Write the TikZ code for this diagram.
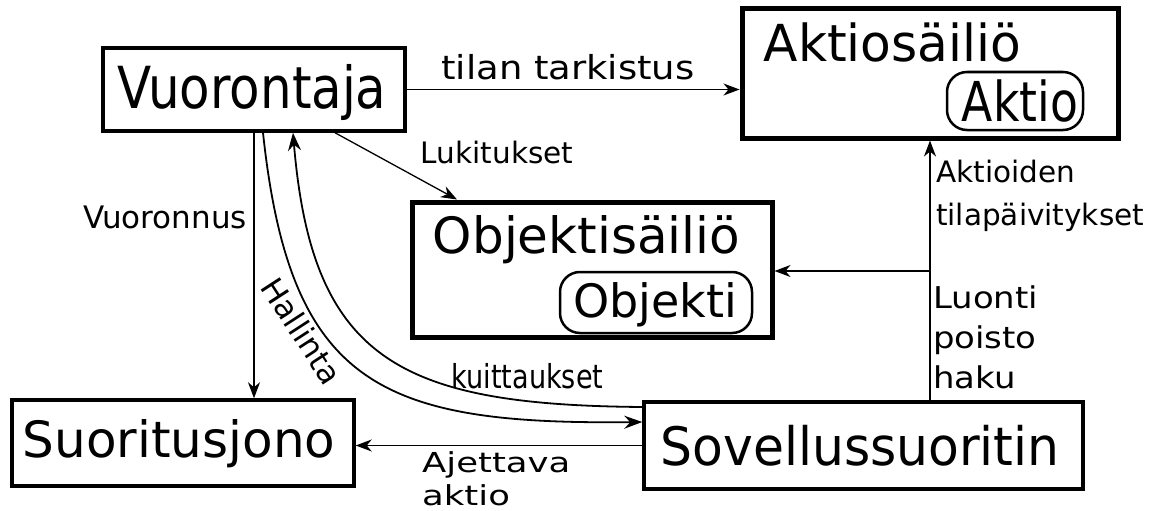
\documentclass[tikz,border=0pt]{standalone}
\usepackage{fontspec}
\setmainfont{DejaVu Sans}
\usepackage{graphicx}
\usetikzlibrary{arrows.meta}
\newcommand\lbl[3]{\fontsize{#1}{#1}\selectfont\scalebox{#2}[1]{#3}}
\begin{document}
\begin{tikzpicture}[x=1pt,y=-1pt,
  box/.style={draw, line width=3.5pt, inner sep=0pt},
  bigbox/.style={draw, line width=5pt, inner sep=0pt},
  inbox/.style={draw, line width=2.5pt, rounded corners=20pt, inner sep=0pt},
  txt/.style={inner sep=0pt, anchor=base},
  ltxt/.style={inner sep=0pt, anchor=base west},
  arr/.style={line width=1.3pt, -{Stealth[length=16pt,width=12pt,inset=5pt]}},
  carr/.style={line width=1.8pt, -{Stealth[length=18pt,width=13pt,inset=6pt]}}
]
\useasboundingbox (0,0) rectangle (1156,511);
% boxes
\node[box, minimum width=302pt, minimum height=83pt] (V) at (254,89.5) {};
\node[bigbox, minimum width=376pt, minimum height=129pt] (A) at (930,73.5) {};
\node[bigbox, minimum width=360pt, minimum height=135pt] (O) at (592,269.5) {};
\node[box, minimum width=342pt, minimum height=86pt] (Q) at (183,443) {};
\node[box, minimum width=439pt, minimum height=87pt] (S) at (863.5,445.5) {};
\node[inbox, minimum width=136pt, minimum height=58pt] (AI) at (1015,101) {};
\node[inbox, minimum width=192pt, minimum height=61pt] (OI) at (656,302.5) {};
% box texts
\node[txt] (Vt) at (252,108) {\lbl{58}{0.86}{Vuorontaja}};
\node[txt] (At) at (892.5,62) {\lbl{51}{0.985}{Aktiosäiliö}};
\node[txt] (Ot) at (586.5,253) {\lbl{50}{1}{Objektisäiliö}};
\node[txt] (Qt) at (179,457) {\lbl{50}{1}{Suoritusjono}};
\node[txt] (St) at (860,465) {\lbl{53}{0.95}{Sovellussuoritin}};
\node[txt] (AIt) at (1020,121.5) {\lbl{55}{0.83}{Aktio}};
\node[txt] (OIt) at (655,317) {\lbl{46}{1}{Objekti}};
% labels
\node[txt] (l1) at (568,80) {\lbl{33}{1.12}{tilan tarkistus}};
\node[txt] (l2) at (497,163) {\lbl{29.5}{1}{Lukitukset}};
\node[txt] (l3) at (165,228) {\lbl{31}{1}{Vuoronnus}};
\node[txt] (l4) at (527.5,388) {\lbl{33}{0.82}{kuittaukset}};
\node[ltxt] (l5a) at (422,472) {\lbl{27.5}{1.29}{Ajettava}};
\node[ltxt] (l5b) at (422,505) {\lbl{27.5}{1.29}{aktio}};
\node[ltxt] (l6a) at (936,182) {\lbl{29.5}{1}{Aktioiden}};
\node[ltxt] (l6b) at (936,225) {\lbl{29.5}{1}{tilapäivitykset}};
\node[ltxt] (l7a) at (933,308) {\lbl{30}{1.13}{Luonti}};
\node[ltxt] (l7b) at (933,348) {\lbl{30}{1.13}{poisto}};
\node[ltxt] (l7c) at (933,388) {\lbl{30}{1.13}{haku}};
\node[inner sep=0pt, rotate=-57] (l8) at (302,331) {\lbl{31}{1}{Hallinta}};
% connectors
\draw[arr] (V.east) -- (V.east -| A.west);
\draw[arr] ([xshift=81pt]V.south) -- ([xshift=-135pt]O.north);
\draw[arr] (V.south) -- (V.south |- Q.north);
\draw[carr] ([xshift=9pt]V.south) .. controls (290,385) and (380,425) .. ([yshift=23.5pt]S.west);
\draw[carr] ([yshift=38.5pt]S.west) .. controls (400,405) and (312,360) .. ([xshift=39pt]V.south);
\draw[arr] (S.west) -- (S.west -| Q.east);
\draw[arr] (A.south |- S.north) -- (A.south);
\coordinate (br) at (930,271);
\draw[arr] (br) -- (br -| O.east);
\end{tikzpicture}
\end{document}
